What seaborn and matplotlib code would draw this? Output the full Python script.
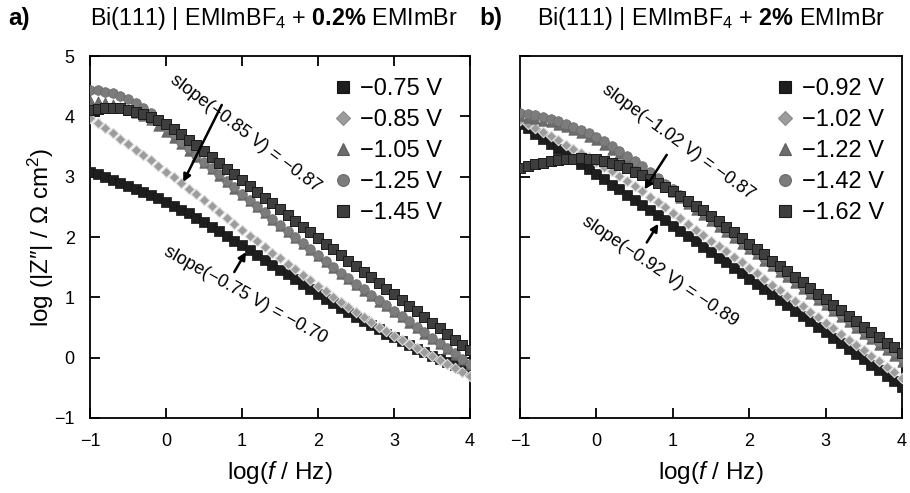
import numpy as np
import pandas as pd
import matplotlib
matplotlib.use("Agg")
import matplotlib.pyplot as plt
import seaborn as sns
from matplotlib.lines import Line2D

sns.set_style("ticks")
plt.rcParams["font.family"] = ["Liberation Sans", "DejaVu Sans"]
plt.rcParams["mathtext.fontset"] = "custom"
plt.rcParams["mathtext.rm"] = "Liberation Sans"
plt.rcParams["mathtext.it"] = "Liberation Sans:italic"
plt.rcParams["mathtext.bf"] = "Liberation Sans:bold"
plt.rcParams["text.color"] = "black"
plt.rcParams["axes.labelcolor"] = "black"
plt.rcParams["xtick.color"] = "black"
plt.rcParams["ytick.color"] = "black"

# ---------------- data ----------------
log_f = [-1.0, -0.9, -0.8, -0.7, -0.6, -0.5, -0.4, -0.3, -0.2, -0.1,
         0.0, 0.1, 0.2, 0.3, 0.4, 0.5, 0.6, 0.7, 0.8, 0.9,
         1.0, 1.1, 1.2, 1.3, 1.4, 1.5, 1.6, 1.7, 1.8, 1.9,
         2.0, 2.1, 2.2, 2.3, 2.4, 2.5, 2.6, 2.7, 2.8, 2.9,
         3.0, 3.1, 3.2, 3.3, 3.4, 3.5, 3.6, 3.7, 3.8, 3.9, 4.0]

labels_a = ["\u22120.75 V", "\u22120.85 V", "\u22121.05 V", "\u22121.25 V", "\u22121.45 V"]
labels_b = ["\u22120.92 V", "\u22121.02 V", "\u22121.22 V", "\u22121.42 V", "\u22121.62 V"]

a_075 = [3.08, 3.04, 2.99, 2.95, 2.90, 2.85, 2.80, 2.75, 2.69, 2.64,
         2.58, 2.52, 2.45, 2.39, 2.32, 2.25, 2.17, 2.10, 2.02, 1.94,
         1.86, 1.78, 1.70, 1.62, 1.54, 1.46, 1.38, 1.30, 1.22, 1.14,
         1.06, 0.98, 0.91, 0.83, 0.76, 0.68, 0.61, 0.54, 0.47, 0.40,
         0.34, 0.27, 0.21, 0.15, 0.09, 0.03, -0.02, -0.07, -0.12, -0.17, -0.22]
a_085 = [3.98, 3.89, 3.80, 3.72, 3.63, 3.54, 3.45, 3.36, 3.27, 3.18,
         3.08, 2.99, 2.90, 2.80, 2.71, 2.61, 2.51, 2.41, 2.31, 2.22,
         2.12, 2.02, 1.93, 1.83, 1.74, 1.65, 1.56, 1.47, 1.37, 1.28,
         1.19, 1.10, 1.01, 0.92, 0.84, 0.75, 0.67, 0.59, 0.51, 0.44,
         0.36, 0.29, 0.22, 0.16, 0.09, 0.03, -0.04, -0.11, -0.17, -0.24, -0.31]
a_105 = [4.27, 4.26, 4.23, 4.20, 4.16, 4.11, 4.06, 4.00, 3.94, 3.84,
         3.74, 3.64, 3.54, 3.43, 3.33, 3.22, 3.12, 3.01, 2.91, 2.80,
         2.70, 2.60, 2.49, 2.39, 2.28, 2.18, 2.08, 1.98, 1.88, 1.78,
         1.68, 1.58, 1.49, 1.39, 1.30, 1.20, 1.11, 1.02, 0.93, 0.85,
         0.76, 0.67, 0.58, 0.49, 0.40, 0.31, 0.22, 0.14, 0.05, -0.04, -0.12]
a_125 = [4.43, 4.43, 4.41, 4.38, 4.34, 4.29, 4.22, 4.14, 4.05, 3.94,
         3.82, 3.70, 3.58, 3.47, 3.36, 3.25, 3.15, 3.04, 2.93, 2.83,
         2.72, 2.62, 2.51, 2.41, 2.30, 2.20, 2.10, 2.00, 1.90, 1.80,
         1.70, 1.60, 1.51, 1.41, 1.32, 1.22, 1.13, 1.04, 0.95, 0.87,
         0.78, 0.69, 0.60, 0.51, 0.42, 0.33, 0.24, 0.16, 0.07, -0.02, -0.10]
a_145 = [4.10, 4.12, 4.13, 4.13, 4.13, 4.11, 4.08, 4.04, 3.99, 3.94,
         3.87, 3.79, 3.70, 3.61, 3.52, 3.42, 3.32, 3.23, 3.13, 3.04,
         2.94, 2.84, 2.75, 2.65, 2.56, 2.46, 2.36, 2.27, 2.17, 2.08,
         1.98, 1.89, 1.80, 1.70, 1.61, 1.52, 1.42, 1.33, 1.24, 1.14,
         1.05, 0.96, 0.86, 0.77, 0.67, 0.58, 0.49, 0.40, 0.30, 0.21, 0.12]

b_092 = [3.88, 3.80, 3.71, 3.63, 3.54, 3.46, 3.38, 3.29, 3.21, 3.12,
         3.04, 2.96, 2.87, 2.79, 2.70, 2.62, 2.53, 2.45, 2.36, 2.28,
         2.19, 2.10, 2.02, 1.93, 1.84, 1.75, 1.66, 1.58, 1.49, 1.40,
         1.31, 1.22, 1.13, 1.05, 0.96, 0.87, 0.78, 0.69, 0.60, 0.51,
         0.42, 0.33, 0.24, 0.15, 0.06, -0.03, -0.12, -0.21, -0.30, -0.39, -0.48]
b_102 = [3.94, 3.87, 3.81, 3.74, 3.67, 3.60, 3.53, 3.46, 3.39, 3.32,
         3.24, 3.16, 3.09, 3.01, 2.93, 2.85, 2.76, 2.67, 2.58, 2.49,
         2.40, 2.31, 2.22, 2.12, 2.03, 1.94, 1.85, 1.76, 1.67, 1.58,
         1.49, 1.40, 1.31, 1.21, 1.12, 1.03, 0.94, 0.85, 0.76, 0.67,
         0.58, 0.49, 0.40, 0.30, 0.21, 0.12, 0.03, -0.06, -0.15, -0.24, -0.33]
b_122 = [4.00, 3.98, 3.96, 3.93, 3.90, 3.86, 3.82, 3.77, 3.72, 3.66,
         3.60, 3.53, 3.45, 3.37, 3.29, 3.20, 3.11, 3.01, 2.92, 2.83,
         2.74, 2.64, 2.55, 2.45, 2.36, 2.27, 2.17, 2.08, 1.98, 1.89,
         1.80, 1.71, 1.61, 1.52, 1.42, 1.33, 1.24, 1.14, 1.05, 0.96,
         0.87, 0.78, 0.68, 0.59, 0.49, 0.40, 0.31, 0.21, 0.12, 0.02, -0.07]
b_142 = [4.06, 4.04, 4.02, 3.99, 3.96, 3.92, 3.88, 3.83, 3.78, 3.72,
         3.66, 3.59, 3.51, 3.43, 3.35, 3.26, 3.17, 3.07, 2.98, 2.88,
         2.79, 2.69, 2.60, 2.50, 2.41, 2.31, 2.22, 2.12, 2.03, 1.93,
         1.84, 1.75, 1.65, 1.56, 1.46, 1.37, 1.28, 1.18, 1.09, 0.99,
         0.90, 0.81, 0.72, 0.62, 0.53, 0.44, 0.35, 0.26, 0.18, 0.09, 0.00]
b_162 = [3.15, 3.18, 3.21, 3.23, 3.26, 3.28, 3.29, 3.30, 3.31, 3.30,
         3.29, 3.26, 3.23, 3.19, 3.14, 3.08, 3.02, 2.96, 2.90, 2.83,
         2.76, 2.68, 2.60, 2.52, 2.44, 2.35, 2.26, 2.17, 2.08, 1.98,
         1.89, 1.80, 1.71, 1.61, 1.52, 1.43, 1.34, 1.25, 1.15, 1.06,
         0.97, 0.88, 0.79, 0.69, 0.60, 0.51, 0.42, 0.34, 0.25, 0.17, 0.08]

x_ticks = [-1, 0, 1, 2, 3, 4]
y_ticks = [-1, 0, 1, 2, 3, 4, 5]
x_ticklabels = ["\u22121", "0", "1", "2", "3", "4"]
y_ticklabels = ["\u22121", "0", "1", "2", "3", "4", "5"]

# ---------------- styles ----------------
styles = [
    dict(marker="s", fc="#1e1e1e", ec="#141414", s=42, lw=0.5),
    dict(marker="D", fc="#9c9c9c", ec="#dcdcdc", s=28, lw=0.8),
    dict(marker="^", fc="#6c6c6c", ec="#5a5a5a", s=46, lw=0.5),
    dict(marker="o", fc="#7c7c7c", ec="#6a6a6a", s=48, lw=0.5),
    dict(marker="s", fc="#3e3e3e", ec="#1a1a1a", s=46, lw=0.7),
]

def long_df(labels, series):
    frames = []
    for lab, vals in zip(labels, series):
        frames.append(pd.DataFrame({"logf": log_f, "logZ": vals, "E": lab}))
    return pd.concat(frames, ignore_index=True)

df_a = long_df(labels_a, [a_075, a_085, a_105, a_125, a_145])
df_b = long_df(labels_b, [b_092, b_102, b_122, b_142, b_162])

fig = plt.figure(figsize=(9.1, 4.93), dpi=100)
ax1 = fig.add_axes([90 / 910, 1 - 418 / 493, 380 / 910, 362 / 493])
ax2 = fig.add_axes([520 / 910, 1 - 418 / 493, 382 / 910, 362 / 493])

def draw(ax, df, labels, leg_x):
    for lab, st in zip(labels, styles):
        sub = df[df["E"] == lab]
        sns.scatterplot(data=sub, x="logf", y="logZ", ax=ax, marker=st["marker"],
                        color=st["fc"], edgecolor=st["ec"], s=st["s"],
                        linewidth=st["lw"], legend=False, zorder=3)
    handles = [Line2D([], [], ls="", marker=st["marker"], mfc=st["fc"],
                      mec=("#8a8a8a" if st["marker"] == "D" else st["ec"]),
                      ms=(7 if st["marker"] == "D" else 8.5), mew=0.8)
               for st in styles]
    ax.legend(handles, labels, loc="upper left", frameon=False,
              fontsize=17, handletextpad=0.2, labelspacing=0.38,
              handlelength=1.0, borderaxespad=0, borderpad=0,
              bbox_to_anchor=(leg_x, 0.938))
    ax.set_xlim(-1, 4)
    ax.set_ylim(-1, 5)
    ax.set_xticks(x_ticks)
    ax.set_yticks(y_ticks)
    ax.set_xticklabels(x_ticklabels)
    for sp in ax.spines.values():
        sp.set_linewidth(1.3)
        sp.set_color("black")
    ax.set_xlabel("log($\\it{f}$ / Hz)", fontsize=17.5, labelpad=6)

draw(ax1, df_a, labels_a, 0.636)
draw(ax2, df_b, labels_b, 0.664)

ax1.tick_params(direction="in", length=7, width=1.3, labelsize=13, pad=11,
                top=True, right=True)
ax1.set_ylabel("log (|Z\u2033| / \u03a9 cm$^2$)", fontsize=17.5, labelpad=-1)
ax1.set_yticklabels(y_ticklabels)

ax2.tick_params(direction="in", length=7, width=1.3, labelsize=13, pad=11,
                top=False, right=False)
ax2.set_ylabel("")
ax2.set_yticklabels([])

# annotations
def note(ax, text, xy, rot, tip, base):
    ax.text(xy[0], xy[1], text, rotation=rot, rotation_mode="anchor",
            ha="center", va="center", fontsize=13, zorder=5)
    ax.annotate("", xy=tip, xytext=base,
                arrowprops=dict(arrowstyle="-|>", color="black", lw=1.8,
                                mutation_scale=11), zorder=6)

note(ax1, "slope(\u22120.85 V) = \u22120.87", (1.05, 3.71), -37, (0.21, 2.87), (0.75, 4.23))
note(ax1, "slope(\u22120.75 V) = \u22120.70", (1.04, 1.04), -29, (1.07, 1.79), (0.88, 1.38))
note(ax2, "slope(\u22121.02 V) = \u22120.87", (1.07, 3.58), -36, (0.61, 2.75), (0.94, 3.40))
note(ax2, "slope(\u22120.92 V) = \u22120.89", (0.83, 1.43), -34, (0.83, 2.26), (0.64, 1.87))

# panel titles
fig.text(8 / 910, 1 - 18 / 493, "a)", fontsize=17.5, fontweight="bold", va="center", ha="left")
fig.text(90 / 910, 1 - 18 / 493,
         "Bi(111) | EMImBF$_4$ + $\\mathbf{0.2\\%}$ EMImBr",
         fontsize=16.8, va="center", ha="left")
fig.text(479 / 910, 1 - 18 / 493, "b)", fontsize=17.5, fontweight="bold", va="center", ha="left")
fig.text(537 / 910, 1 - 18 / 493,
         "Bi(111) | EMImBF$_4$ + $\\mathbf{2\\%}$ EMImBr",
         fontsize=16.8, va="center", ha="left")

fig.savefig("out.png", dpi=100)
